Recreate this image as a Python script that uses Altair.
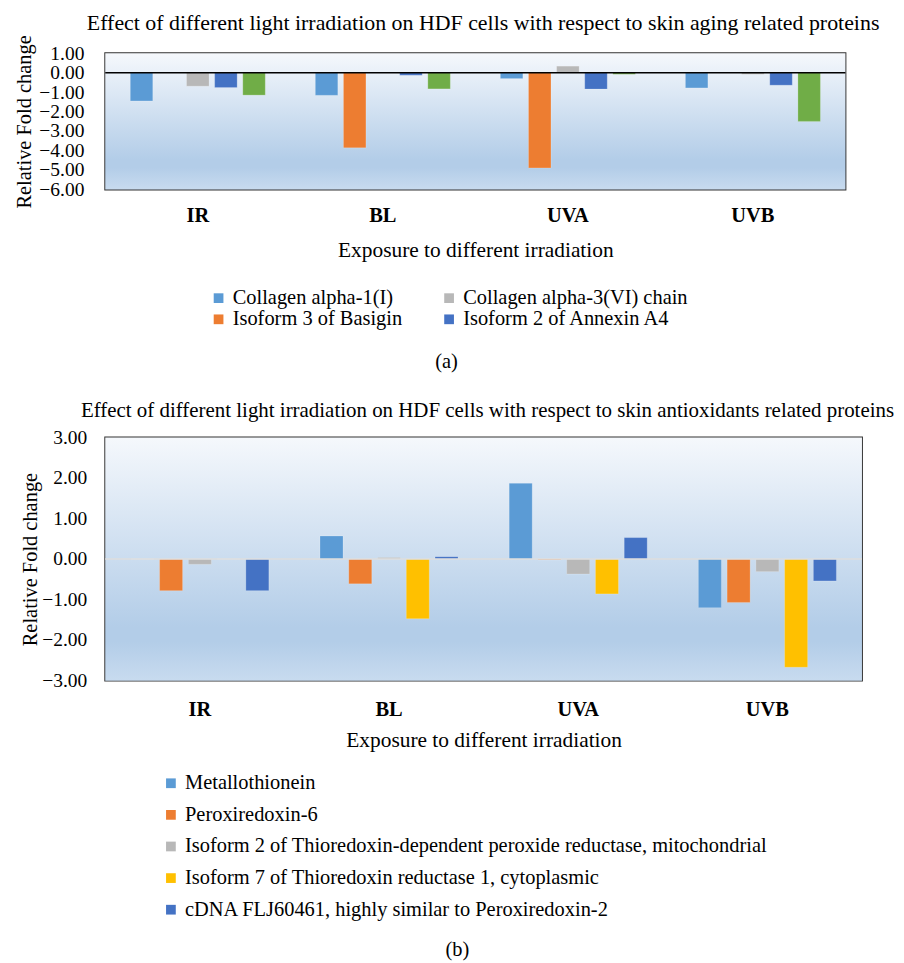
import altair as alt
import pandas as pd

FONT = "Liberation Serif"

groups = ["IR", "BL", "UVA", "UVB"]

# Panel (a): skin aging related proteins
# bar order inside each group
order_a = ["Collagen alpha-1(I)", "Isoform 3 of Basigin", "Collagen alpha-3(VI) chain",
           "Isoform 2 of Annexin A4", "Series 5"]
colors_a = ["#5b9bd5", "#ed7d31", "#b8b8b8", "#4472c4", "#70ad47"]
# legend entries (laid out column by column in two columns)
legend_a = order_a[:4]
vals_a = {
    "Collagen alpha-1(I)":        [-1.45, -1.16, -0.30, -0.78],
    "Isoform 3 of Basigin":       [0.00, -3.86, -4.89, 0.00],
    "Collagen alpha-3(VI) chain": [-0.69, 0.00, 0.34, -0.08],
    "Isoform 2 of Annexin A4":    [-0.76, -0.13, -0.84, -0.64],
    "Series 5":                   [-1.15, -0.83, -0.08, -2.50],
}

# Panel (b): skin antioxidants related proteins
series_b = ["Metallothionein", "Peroxiredoxin-6",
            "Isoform 2 of Thioredoxin-dependent peroxide reductase, mitochondrial",
            "Isoform 7 of Thioredoxin reductase 1, cytoplasmic",
            "cDNA FLJ60461, highly similar to Peroxiredoxin-2"]
colors_b = ["#5b9bd5", "#ed7d31", "#b8b8b8", "#ffc000", "#4472c4"]
vals_b = {
    series_b[0]: [0.00, 0.57, 1.87, -1.20],
    series_b[1]: [-0.78, -0.61, -0.02, -1.07],
    series_b[2]: [-0.13, 0.04, -0.37, -0.31],
    series_b[3]: [0.00, -1.47, -0.86, -2.67],
    series_b[4]: [-0.78, 0.06, 0.53, -0.54],
}

ticks_a = [1, 0, -1, -2, -3, -4, -5, -6]
ticks_b = [3, 2, 1, 0, -1, -2, -3]


def to_df(vals, series):
    rows = []
    for s in series:
        for g, v in zip(groups, vals[s]):
            rows.append({"group": g, "series": s, "value": v})
    return pd.DataFrame(rows)


grad = alt.Gradient(
    gradient="linear", x1=0, y1=0, x2=0, y2=1,
    stops=[alt.GradientStop(color="#f5f8fc", offset=0),
           alt.GradientStop(color="#b3cde8", offset=0.78),
           alt.GradientStop(color="#b3cde8", offset=0.84),
           alt.GradientStop(color="#c8dbef", offset=1)])

one = pd.DataFrame({"k": [0]})


def panel(df, series, colors, ticks, domain, W, H, title, tsize, toff, tdx,
          zero_color, legend, lpad, tpad, xlpad, xtpad):
    yaxis = alt.Axis(values=ticks, tickCount=len(ticks), format=".2f", grid=False,
                     ticks=False, domain=False, labelFont=FONT, labelFontSize=20,
                     labelColor="#000", labelOverlap=False, labelPadding=lpad,
                     titleFont=FONT, titleFontSize=21, titleFontWeight="normal",
                     titleColor="#000", titlePadding=tpad)
    yscale = alt.Scale(domain=domain, nice=False, zero=False)
    bg = alt.Chart(one).mark_rect(fill=grad).encode(
        x=alt.value(0), x2=alt.value(W), y=alt.value(0), y2=alt.value(H))
    bars = alt.Chart(df).mark_bar(stroke="#ffffff", strokeOpacity=0.35, strokeWidth=0.6).encode(
        x=alt.X("group:N", sort=groups, title="Exposure to different irradiation",
                scale=alt.Scale(paddingInner=0.24, paddingOuter=0.12),
                axis=alt.Axis(labelAngle=0, labelFontWeight="bold", labelFontSize=21,
                              labelFont=FONT, labelColor="#000", ticks=False, domain=False,
                              labelPadding=xlpad, titleFont=FONT, titleFontSize=22,
                              titleFontWeight="normal", titleColor="#000",
                              titlePadding=xtpad)),
        xOffset=alt.XOffset("series:N", sort=series,
                            scale=alt.Scale(paddingInner=0.2, paddingOuter=0.1)),
        y=alt.Y("value:Q", title="Relative Fold change", scale=yscale, axis=yaxis),
        color=alt.Color("series:N", scale=alt.Scale(domain=series, range=colors),
                        legend=legend),
    )
    zero = alt.Chart(one).mark_rule(color=zero_color, strokeWidth=1.6).encode(
        y=alt.YDatum(0, scale=yscale, axis=yaxis, title="Relative Fold change"))
    return alt.layer(bg, bars, zero).properties(
        width=W, height=H,
        title=alt.TitleParams(title, font=FONT, fontSize=tsize, fontWeight="normal",
                              color="#000", anchor="middle", offset=toff, dx=tdx,
                              frame="group"),
    )


leg_a = alt.Legend(values=legend_a, title=None, orient="none", legendX=106, legendY=241,
                   columns=2, columnPadding=37, rowPadding=0, symbolType="square",
                   symbolSize=100, symbolStrokeWidth=0, labelFont=FONT, labelFontSize=21,
                   labelColor="#000", labelOffset=4, labelLimit=0, padding=0)
leg_b = alt.Legend(title=None, orient="none", legendX=57, legendY=345,
                   columns=1, rowPadding=10.5, symbolType="square",
                   symbolSize=100, symbolStrokeWidth=0, labelFont=FONT, labelFontSize=21,
                   labelColor="#000", labelOffset=4, labelLimit=0, padding=0)

chart_a = panel(to_df(vals_a, order_a), order_a, colors_a, ticks_a, [-6, 1], 761, 140,
                "Effect of different light irradiation on HDF cells with respect to skin aging related proteins",
                22.5, 0, 8, "#000000", leg_a, 22, 5, 16, 15)
chart_b = panel(to_df(vals_b, series_b), series_b, colors_b, ticks_b, [-3, 3], 778, 250,
                "Effect of different light irradiation on HDF cells with respect to skin antioxidants related proteins",
                21.5, 7, 4, "#dedede", leg_b, 19, 1, 19, 11)

cap = dict(orient="bottom", font=FONT, fontSize=21, fontWeight="normal", color="#000",
           anchor="middle")
pa = alt.vconcat(chart_a).properties(title=alt.TitleParams("(a)", offset=23, **cap))
pb = alt.vconcat(chart_b).properties(title=alt.TitleParams("(b)", offset=20, **cap))

chart = alt.concat(pa, pb, columns=1, spacing=27, align="none").resolve_scale(
    color="independent", x="independent", y="independent", xOffset="independent"
).configure_view(stroke="#333333", strokeWidth=2).properties(
    padding={"left": 4, "top": -10, "right": 0, "bottom": 0})

chart.save("out.html", embed_options={"renderer": "svg", "actions": False})
